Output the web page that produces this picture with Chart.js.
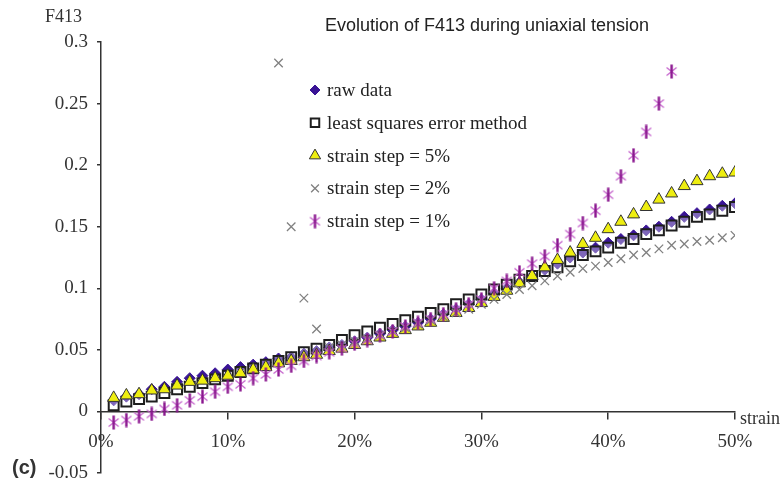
<!DOCTYPE html>
<html>
<head>
<meta charset="utf-8">
<script src="https://cdn.jsdelivr.net/npm/chart.js"></script>
<style>
  html, body { margin: 0; padding: 0; background: #fff; }
  #wrap { width: 783px; height: 485px; position: relative; }
</style>
</head>
<body>
<div id="wrap"><canvas id="f413Chart"></canvas></div>
<script>
// strain in %, one point per 1% step
const strain = [1, 2, 3, 4, 5, 6, 7, 8, 9, 10, 11, 12, 13, 14, 15, 16, 17, 18, 19, 20,
  21, 22, 23, 24, 25, 26, 27, 28, 29, 30, 31, 32, 33, 34, 35, 36, 37, 38, 39, 40,
  41, 42, 43, 44, 45, 46, 47, 48, 49, 50];

const rawData = [0.009, 0.012, 0.014, 0.018, 0.020, 0.024, 0.027, 0.029, 0.031, 0.034,
  0.036, 0.038, 0.040, 0.043, 0.044, 0.047, 0.049, 0.052, 0.054, 0.057,
  0.060, 0.063, 0.066, 0.069, 0.072, 0.075, 0.079, 0.083, 0.087, 0.091,
  0.096, 0.100, 0.105, 0.110, 0.115, 0.120, 0.125, 0.129, 0.133, 0.137,
  0.140, 0.143, 0.147, 0.150, 0.154, 0.158, 0.161, 0.164, 0.167, 0.169];

const leastSquares = [0.005, 0.008, 0.010, 0.012, 0.015, 0.018, 0.020, 0.023, 0.026, 0.029,
  0.032, 0.035, 0.038, 0.041, 0.044, 0.048, 0.051, 0.054, 0.058, 0.062,
  0.065, 0.068, 0.071, 0.074, 0.077, 0.080, 0.083, 0.087, 0.091, 0.095,
  0.099, 0.103, 0.107, 0.110, 0.114, 0.117, 0.122, 0.127, 0.130, 0.133,
  0.137, 0.140, 0.144, 0.147, 0.151, 0.154, 0.158, 0.160, 0.163, 0.166];

const step5 = [0.011, 0.013, 0.014, 0.017, 0.018, 0.021, 0.024, 0.025, 0.027, 0.029,
  0.031, 0.034, 0.036, 0.039, 0.041, 0.044, 0.046, 0.049, 0.051, 0.054,
  0.057, 0.060, 0.063, 0.066, 0.069, 0.072, 0.076, 0.080, 0.084, 0.088,
  0.093, 0.098, 0.104, 0.110, 0.117, 0.123, 0.129, 0.136, 0.141, 0.148,
  0.154, 0.160, 0.166, 0.172, 0.177, 0.183, 0.187, 0.191, 0.193, 0.194];

const step2 = [null, null, null, null, null, null, null, null, null, null,
  null, null, null, 0.283, 0.150, 0.092, 0.067, 0.052, 0.054, 0.057,
  0.059, 0.062, 0.065, 0.068, 0.071, 0.074, 0.077, 0.080, 0.083, 0.087,
  0.091, 0.095, 0.099, 0.102, 0.106, 0.110, 0.113, 0.116, 0.118, 0.121,
  0.124, 0.127, 0.129, 0.132, 0.135, 0.136, 0.138, 0.139, 0.141, 0.143];

const step1 = [-0.009, -0.007, -0.004, -0.002, 0.002, 0.005, 0.009, 0.012, 0.016, 0.020,
  0.022, 0.027, 0.030, 0.034, 0.037, 0.041, 0.045, 0.048, 0.051, 0.055,
  0.058, 0.062, 0.065, 0.069, 0.072, 0.075, 0.079, 0.083, 0.087, 0.091,
  0.100, 0.106, 0.113, 0.120, 0.126, 0.135, 0.144, 0.153, 0.163, 0.176,
  0.191, 0.208, 0.227, 0.250, 0.276, null, null, null, null, null];

const seriesNames = ['raw data', 'least squares error method', 'strain step = 5%',
  'strain step = 2%', 'strain step = 1%'];
const xTickLabels = ['0%', '10%', '20%', '30%', '40%', '50%'];
const yTickLabels = ['-0.05', '0', '0.05', '0.1', '0.15', '0.2', '0.25', '0.3'];
const titleText = 'Evolution of F413 during uniaxial tension';

const SERIF = '"Liberation Serif", "Times New Roman", serif';
const SANS = '"Liberation Sans", Arial, sans-serif';

function toPoints(values) {
  return strain.map((s, i) => ({ x: s, y: values[i] }));
}

// purple asterisk marker: heavy vertical bar + thin X
function makeAsterisk() {
  const c = document.createElement('canvas');
  c.width = 13;
  c.height = 15;
  const g = c.getContext('2d');
  g.strokeStyle = '#c563cc';
  g.lineWidth = 1.3;
  g.beginPath();
  g.moveTo(1.5, 3.5); g.lineTo(11.5, 11.5);
  g.moveTo(11.5, 3.5); g.lineTo(1.5, 11.5);
  g.stroke();
  g.strokeStyle = '#8a168f';
  g.lineWidth = 2.4;
  g.beginPath();
  g.moveTo(6.5, 0.5); g.lineTo(6.5, 14.5);
  g.stroke();
  return c;
}
const asterisk = makeAsterisk();

const datasets = [
  {
    label: seriesNames[0], data: toPoints(rawData), order: 4,
    pointStyle: 'rectRot', pointRadius: 5.5,
    pointBackgroundColor: '#3a1496', pointBorderColor: '#3a1496', pointBorderWidth: 1
  },
  {
    label: seriesNames[1], data: toPoints(leastSquares), order: 3,
    pointStyle: 'rect', pointRadius: 7,
    pointBackgroundColor: 'rgba(255,255,255,0.35)', pointBorderColor: '#1e1e1e', pointBorderWidth: 2
  },
  {
    label: seriesNames[2], data: toPoints(step5), order: 2,
    pointStyle: 'triangle', pointRadius: 7,
    pointBackgroundColor: '#eeee10', pointBorderColor: '#333', pointBorderWidth: 1
  },
  {
    label: seriesNames[3], data: toPoints(step2), order: 1,
    pointStyle: 'crossRot', pointRadius: 6,
    pointBackgroundColor: '#808080', pointBorderColor: '#808080', pointBorderWidth: 1.3
  },
  {
    label: seriesNames[4], data: toPoints(step1), order: 0,
    pointStyle: asterisk, pointRadius: 6,
    pointBackgroundColor: '#8a168f', pointBorderColor: '#8a168f', pointBorderWidth: 1
  }
];

// title, axis captions and the in-plot legend
const decorations = {
  id: 'decorations',
  afterDraw(chart) {
    const ctx = chart.ctx;
    ctx.save();
    ctx.fillStyle = '#222';
    ctx.textBaseline = 'alphabetic';

    ctx.font = '18px ' + SANS;
    ctx.textAlign = 'center';
    ctx.fillText(titleText, 487, 31);

    ctx.font = '18px ' + SERIF;
    ctx.textAlign = 'left';
    ctx.fillStyle = '#333';
    ctx.fillText('F413', 45, 22);
    ctx.fillText('strain', 740, 424);

    ctx.font = 'bold 20px ' + SANS;
    ctx.fillStyle = '#333';
    ctx.fillText('(c)', 12, 474);

    // legend
    const lx = 315, ly = 90, gap = 32.8;
    ctx.font = '19px ' + SERIF;
    chart.data.datasets.forEach((ds, i) => {
      const y = ly + i * gap;
      ctx.save();
      ctx.fillStyle = ds.pointStyle === 'rect' ? '#fff' : ds.pointBackgroundColor;
      ctx.strokeStyle = ds.pointBorderColor;
      ctx.lineWidth = ds.pointBorderWidth;
      const r = ds.pointStyle === 'rect' ? 6 : ds.pointRadius - 0.5;
      Chart.helpers.drawPoint(ctx, {
        pointStyle: ds.pointStyle, radius: r, rotation: 0, borderWidth: ds.pointBorderWidth
      }, lx, y);
      ctx.restore();
      ctx.fillStyle = '#222';
      ctx.fillText(ds.label, lx + 12, y + 6);
    });
    ctx.restore();
  }
};

new Chart(document.getElementById('f413Chart'), {
  type: 'scatter',
  data: { datasets },
  options: {
    responsive: true,
    maintainAspectRatio: false,
    animation: false,
    layout: { padding: { left: 0, right: 48, top: 42, bottom: 12 } },
    plugins: {
      legend: { display: false },
      tooltip: { enabled: false },
      title: { display: false }
    },
    scales: {
      x: {
        type: 'linear',
        position: { y: 0 },
        min: 0,
        max: 50,
        afterFit: s => { s.height = 0; },
        afterBuildTicks: s => { s.ticks = xTickLabels.map((_, i) => ({ value: i * 10 })); },
        ticks: {
          padding: 12,
          color: '#333',
          font: { family: SERIF, size: 19 },
          maxRotation: 0,
          callback: (v, i) => xTickLabels[i]
        },
        grid: { drawOnChartArea: false, tickLength: 7, color: '#333', lineWidth: 1.5 },
        border: { display: true, color: '#333', width: 1.5 }
      },
      y: {
        type: 'linear',
        position: 'left',
        min: -0.05,
        max: 0.3,
        afterFit: s => { s.width = 101; s.paddingTop = 0; s.paddingBottom = 0; },
        afterBuildTicks: s => { s.ticks = yTickLabels.map(t => ({ value: parseFloat(t) })); },
        ticks: {
          padding: 9,
          color: '#333',
          font: { family: SERIF, size: 19 },
          callback: (v, i) => yTickLabels[i]
        },
        grid: { drawOnChartArea: false, tickLength: 4, color: '#333', lineWidth: 1.5 },
        border: { display: true, color: '#333', width: 1.5 }
      }
    }
  },
  plugins: [decorations]
});
</script>
</body>
</html>
